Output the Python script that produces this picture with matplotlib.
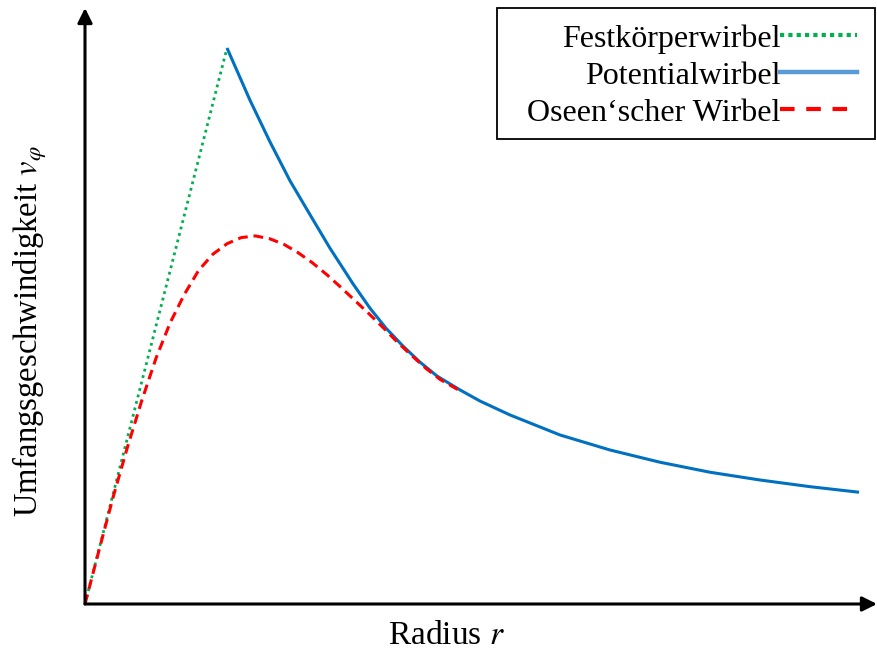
import matplotlib
matplotlib.use('Agg')
import matplotlib.pyplot as plt
from matplotlib.lines import Line2D
from matplotlib.patches import Rectangle

plt.rcParams['font.family'] = ['Liberation Serif', 'DejaVu Serif']
plt.rcParams['mathtext.fontset'] = 'stix'

# Festkörperwirbel: linearer Anstieg bis zum Kernradius
r_fest = [0.0, 1.0]
v_fest = [0.0, 1.0]

# Potentialwirbel: Abfall ab dem Kernradius
r_pot = [1.000, 1.162, 1.303, 1.444, 1.599, 1.725, 1.887, 2.007, 2.120,
         2.239, 2.359, 2.479, 2.641, 2.782, 2.993, 3.345, 3.697, 4.049,
         4.401, 4.754, 5.106, 5.451]
v_pot = [1.000, 0.906, 0.831, 0.761, 0.694, 0.640, 0.576, 0.532, 0.496,
         0.464, 0.435, 0.410, 0.385, 0.365, 0.340, 0.304, 0.277, 0.255,
         0.237, 0.223, 0.211, 0.201]

# Oseen'scher Wirbel
r_oseen = [0.0, 0.1, 0.2, 0.3, 0.4, 0.5, 0.6, 0.7, 0.8, 0.9, 1.0, 1.1,
           1.2, 1.3, 1.4, 1.5, 1.6, 1.7, 1.8, 1.9, 2.0, 2.1, 2.2, 2.3,
           2.4, 2.5, 2.63]
v_oseen = [0.000, 0.098, 0.194, 0.283, 0.366, 0.442, 0.506, 0.557, 0.600,
           0.629, 0.648, 0.659, 0.662, 0.657, 0.647, 0.632, 0.614, 0.593,
           0.570, 0.546, 0.522, 0.497, 0.471, 0.447, 0.424, 0.404, 0.385]

labels = ['Festkörperwirbel', 'Potentialwirbel', 'Oseen‘scher Wirbel']

fig = plt.figure(figsize=(8.77, 6.5), dpi=100)
ax = fig.add_axes([85 / 877, 46 / 650, 792 / 877, 596 / 650])
ax.set_xlim(0, 792 / 142)
ax.set_ylim(0, 596 / 556)

ax.plot(r_fest, v_fest, color='#00B050', lw=2.0, dashes=(1, 1.4))
ax.plot(r_pot, v_pot, color='#0070C0', lw=2.2, solid_capstyle='butt')
ax.plot(r_oseen, v_oseen, color='#FF0000', lw=2.2, dashes=(3.2, 1.9))

# Achsen als Pfeile
for s in ax.spines.values():
    s.set_visible(False)
ax.set_xticks([])
ax.set_yticks([])
arrow = dict(arrowstyle='-|>', lw=2.2, color='black', mutation_scale=22,
             shrinkA=0, shrinkB=0)
ax.annotate('', xy=(1, 0), xytext=(0, 0), xycoords='axes fraction',
            arrowprops=arrow)
ax.annotate('', xy=(0, 1), xytext=(0, 0), xycoords='axes fraction',
            arrowprops=arrow)

fig.text(446 / 877, 1 - 644 / 650, r'Radius $r$', fontsize=24,
         ha='center', va='baseline')
fig.text(30 / 877, 1 - 331 / 650, r'Umfangsgeschwindigkeit $v_\varphi$',
         fontsize=23.5, rotation=90, ha='center', va='center')

# Legendenrahmen separat, damit links mehr Rand bleibt
fig.patches.append(Rectangle((497 / 877, 1 - 139 / 650), 378 / 877,
                             131 / 650, transform=fig.transFigure,
                             fill=True, facecolor='white',
                             edgecolor='black', lw=1.3, zorder=2))

handles = [
    Line2D([], [], color='#00B050', lw=3, dashes=(1, 1.0)),
    Line2D([], [], color='#5B9BD5', lw=3.2),
    Line2D([], [], color='#FF0000', lw=3, dashes=(3.5, 2.8)),
]
leg = fig.legend(handles, labels, loc='upper right',
                 bbox_to_anchor=(857 / 877, 1 - 24 / 650),
                 fontsize=23, markerfirst=False, handletextpad=0.0,
                 handlelength=2.4, labelspacing=0.24, borderpad=0.0,
                 borderaxespad=0, frameon=False)
leg.set_zorder(3)

fig.savefig('out.png', dpi=100)
